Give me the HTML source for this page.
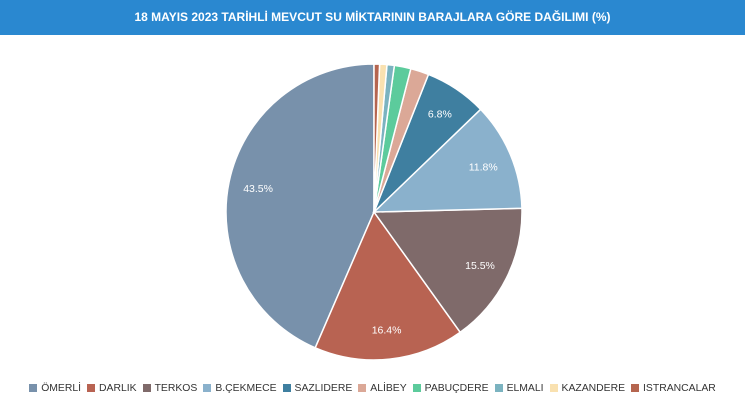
<!DOCTYPE html>
<html><head><meta charset="utf-8"><style>
body{margin:0;width:745px;height:400px;background:#fff;overflow:hidden;font-family:"Liberation Sans",Arial,sans-serif}
.t{position:absolute;left:0;top:0;width:745px;height:35px;background:#2a88d0;color:#fff;font-weight:bold;font-size:12px;line-height:35px;text-align:center}
.lg{position:absolute;top:383px;left:0;width:745px;text-align:center;font-size:10.4px;color:#333;white-space:nowrap}
.lg span{display:inline-block;margin:0 3px}
.lg i{display:inline-block;width:8px;height:8px;margin-right:4px;vertical-align:-1px}
</style></head><body>
<div class="t">18 MAYIS 2023 TARİHLİ MEVCUT SU MİKTARININ BARAJLARA GÖRE DAĞILIMI (%)</div>
<svg id="s" width="745" height="400" style="position:absolute;left:0;top:0"></svg>
<div class="lg">
<span><i style="background:#7891ab"></i>ÖMERLİ</span><span><i style="background:#b86352"></i>DARLIK</span><span><i style="background:#7f6a6a"></i>TERKOS</span><span><i style="background:#8ab1cc"></i>B.ÇEKMECE</span><span><i style="background:#3f7fa0"></i>SAZLIDERE</span><span><i style="background:#dba897"></i>ALİBEY</span><span><i style="background:#5ccb9c"></i>PABUÇDERE</span><span><i style="background:#7bb3c0"></i>ELMALI</span><span><i style="background:#f9e1b0"></i>KAZANDERE</span><span><i style="background:#b5654f"></i>ISTRANCALAR</span>
</div>
<script>
var d=[[43.5,"#7891ab",1],[16.4,"#b86352",1],[15.5,"#7f6a6a",1],[11.8,"#8ab1cc",1],[6.8,"#3f7fa0",1],[2.0,"#dba897",0],[1.8,"#5ccb9c",0],[0.8,"#7bb3c0",0],[0.8,"#f9e1b0",0],[0.6,"#b5654f",0]];
var cx=374,cy=212,r=148,a=0,h="";
d.forEach(function(e){
 var a0=a,a1=a+e[0]/100*2*Math.PI;a=a1;
 function p(t,rr){return[cx-rr*Math.sin(t),cy-rr*Math.cos(t)];}
 var s=p(a0,r),f=p(a1,r),lg=(a1-a0)>Math.PI?1:0;
 h+='<path d="M'+cx+','+cy+'L'+s[0].toFixed(2)+','+s[1].toFixed(2)+'A'+r+','+r+' 0 '+lg+' 0 '+f[0].toFixed(2)+','+f[1].toFixed(2)+'Z" fill="'+e[1]+'" stroke="#fff" stroke-width="1.5"/>';
 if(e[2]){var m=p((a0+a1)/2,r*0.8);h+='<text x="'+m[0].toFixed(1)+'" y="'+(m[1]+4).toFixed(1)+'" fill="#fff" font-size="10.5" text-anchor="middle" font-family="Liberation Sans,sans-serif">'+e[0].toFixed(1)+'%</text>';}
});
document.getElementById("s").innerHTML=h;
</script>
</body></html>
